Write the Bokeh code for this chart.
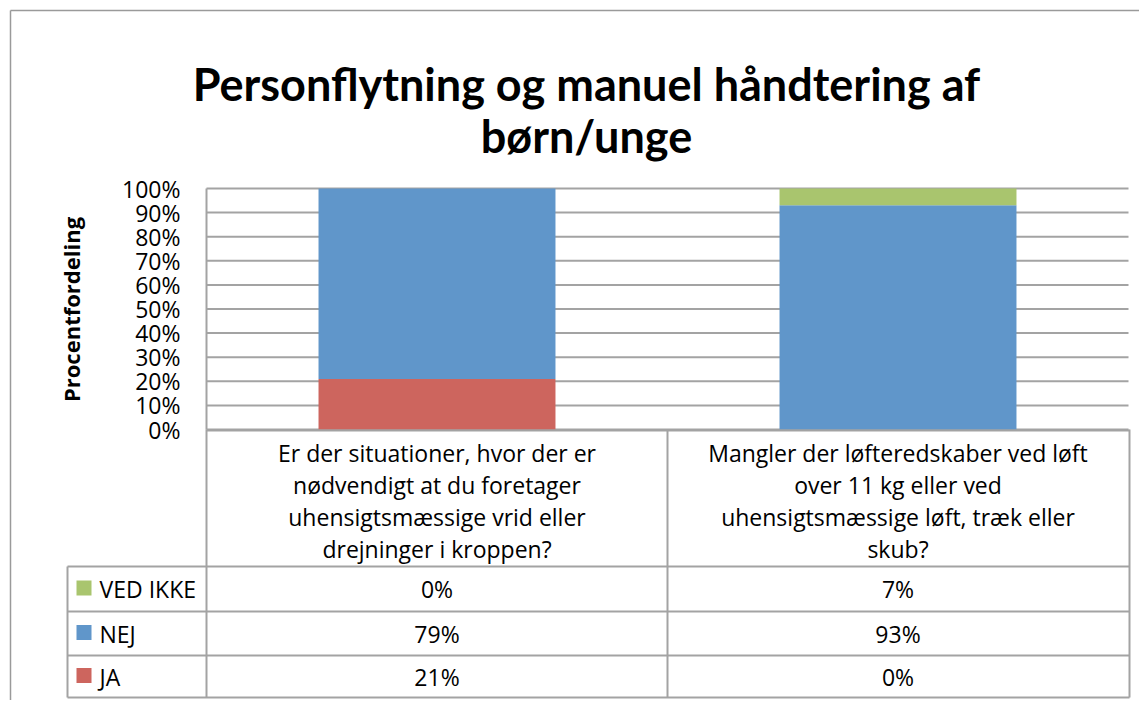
import math
from bokeh.plotting import figure
from bokeh.models import ColumnDataSource, Range1d
from bokeh.core.properties import value
from bokeh.embed import file_html
from bokeh.resources import INLINE

# ---- data ----
TITLE_LINES = ["Personflytning og manuel håndtering af", "børn/unge"]
Y_LABEL = "Procentfordeling"
categories = [
    "Er der situationer, hvor der er\nnødvendigt at du foretager\nuhensigtsmæssige vrid eller\ndrejninger i kroppen?",
    "Mangler der løfteredskaber ved løft\nover 11 kg eller ved\nuhensigtsmæssige løft, træk eller\nskub?",
]
series_names = ["JA", "NEJ", "VED IKKE"]
ja = [21, 0]
nej = [79, 93]
ved_ikke = [0, 7]
y_ticks = [0, 10, 20, 30, 40, 50, 60, 70, 80, 90, 100]
tick_labels = [f"{t}%" for t in y_ticks]

colors = {"JA": "#CD655E", "NEJ": "#6096CA", "VED IKKE": "#A9C56E"}
FONT = "Open Sans"
TFONT = "Lato"
GRID = "#a3a3a3"
FS = "23px"

W, H = 1139, 700
xs = list(range(len(categories)))

# category scale: 461 px per category, centre of first category at x 436.5
# percent scale: 2.41 px per %, 0 % at y 429
p = figure(width=W, height=H, output_backend="svg", toolbar_location=None,
           x_range=Range1d((0 - 436.5) / 461, (W - 436.5) / 461),
           y_range=Range1d((429 - H) / 2.41, 429 / 2.41),
           x_axis_location=None, y_axis_location=None,
           min_border=0, min_border_left=0, min_border_right=0,
           min_border_top=0, min_border_bottom=0)
p.outline_line_color = None
p.grid.visible = False
p.extra_x_ranges = {"px": Range1d(0, W)}
p.extra_y_ranges = {"px": Range1d(H, 0)}

# outer chart border (left and top)
p.segment(x0=[10, 10], y0=[10, 10], x1=[W, 10], y1=[10, H], line_color="#9a9a9a",
          line_width=1.5, x_range_name="px", y_range_name="px")

# title
for line, yb in zip(TITLE_LINES, [83, 135]):
    p.text(x=[586], y=[yb], text=[line], text_align="center", text_baseline="alphabetic",
           text_font=value(TFONT), text_font_style="bold", text_font_size="45px",
           text_color="black", x_range_name="px", y_range_name="px")

# gridlines through the percent scale
p.segment(x0=[-0.5] * len(y_ticks), x1=[1.5] * len(y_ticks), y0=y_ticks, y1=y_ticks,
          line_color=GRID, line_width=2)
# left edge of plot area
p.segment(x0=[-0.5], x1=[-0.5], y0=[0], y1=[100], line_color=GRID, line_width=2)

# stacked bars
src = ColumnDataSource(dict(x=xs, JA=ja, NEJ=nej, **{"VED IKKE": ved_ikke}))
p.vbar_stack(series_names, x="x", width=0.514, source=src,
             color=[colors[s] for s in series_names], line_color=None)

# y tick labels at the percent scale
p.text(x=[180] * len(y_ticks), y=y_ticks, text=tick_labels, text_align="right",
       text_baseline="middle", text_font=value(FONT), text_font_size=FS,
       text_color="black", x_range_name="px")
# y axis title
p.text(x=[70], y=[309], text=[Y_LABEL], angle=math.pi / 2, text_align="center",
       text_baseline="middle", text_font=value(FONT), text_font_style="bold",
       text_font_size="22px", text_color="black", x_range_name="px", y_range_name="px")

# ---- data table ----
rows = [566, 611, 655, 697]
xl, xp, xm, xr = 67, 206, 667, 1129
p.segment(x0=[xp] + [xl] * 4, x1=[xr] * 5, y0=[430] + rows, y1=[430] + rows,
          line_color=GRID, line_width=2, x_range_name="px", y_range_name="px")
p.segment(x0=[xl, xp, xm, xr], x1=[xl, xp, xm, xr], y0=[rows[0], 429, 429, 429],
          y1=[rows[-1]] * 4, line_color=GRID, line_width=2,
          x_range_name="px", y_range_name="px")

p.text(x=xs, y=[500] * len(xs), text=categories, text_align="center",
       text_baseline="middle", text_font=value(FONT), text_font_size=FS,
       text_line_height=1.0, text_color="black", y_range_name="px")

row_centers = [588.5, 633, 676]
table_series = ["VED IKKE", "NEJ", "JA"]
table_vals = {"JA": ja, "NEJ": nej, "VED IKKE": ved_ikke}
for s, yc in zip(table_series, row_centers):
    p.text(x=xs, y=[yc] * len(xs), text=[f"{v}%" for v in table_vals[s]],
           text_align="center", text_baseline="middle", text_font=value(FONT),
           text_font_size=FS, text_color="black", y_range_name="px")
    p.rect(x=[83.5], y=[yc - 1], width=15, height=15, fill_color=colors[s],
           line_color=None, x_range_name="px", y_range_name="px")
    p.text(x=[99], y=[yc], text=[s], text_align="left", text_baseline="middle",
           text_font=value(FONT), text_font_size=FS, text_color="black",
           x_range_name="px", y_range_name="px")

open("out.html", "w").write(file_html(p, INLINE))
